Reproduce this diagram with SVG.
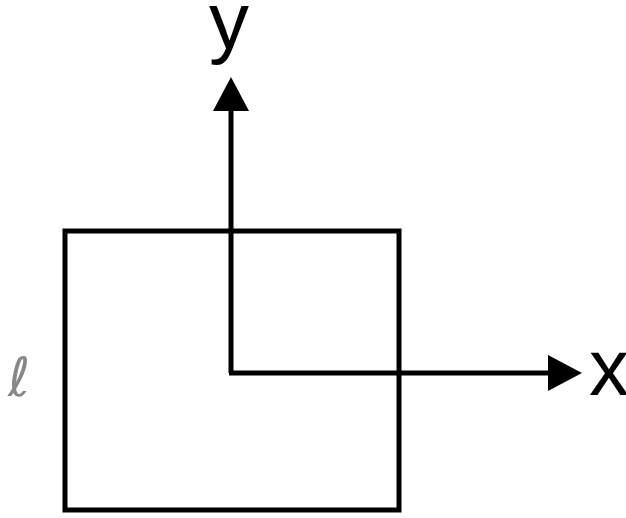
<svg xmlns="http://www.w3.org/2000/svg" width="626" height="518" viewBox="0 0 626 518">
<style>
.ln{stroke:#000;stroke-width:5;fill:none}
.lbl{font-family:"Liberation Sans",Arial,sans-serif;font-size:80px;fill:#000}
</style>
<defs>
<marker id="ah" viewBox="0 0 34 36" refX="0" refY="18" markerWidth="34" markerHeight="36" markerUnits="userSpaceOnUse" orient="auto">
<path d="M0,0 L34,18 L0,36 Z" fill="#000"/>
</marker>
</defs>
<rect width="626" height="518" fill="#fff"/>
<g id="square"><rect class="ln" x="65" y="231" width="334" height="279"/></g>
<g id="connectors">
<line class="ln" x1="231" y1="373" x2="231" y2="111" marker-end="url(#ah)"/>
<line class="ln" x1="229" y1="373" x2="548" y2="373" marker-end="url(#ah)"/>
</g>
<g id="labels">
<text class="lbl" x="229" y="48" text-anchor="middle">y</text>
<text class="lbl" x="609" y="395" text-anchor="middle">x</text>
<text x="8" y="396" font-family="DejaVu Sans,sans-serif" font-size="54" font-style="italic" fill="#888">ℓ</text>
</g>
</svg>
